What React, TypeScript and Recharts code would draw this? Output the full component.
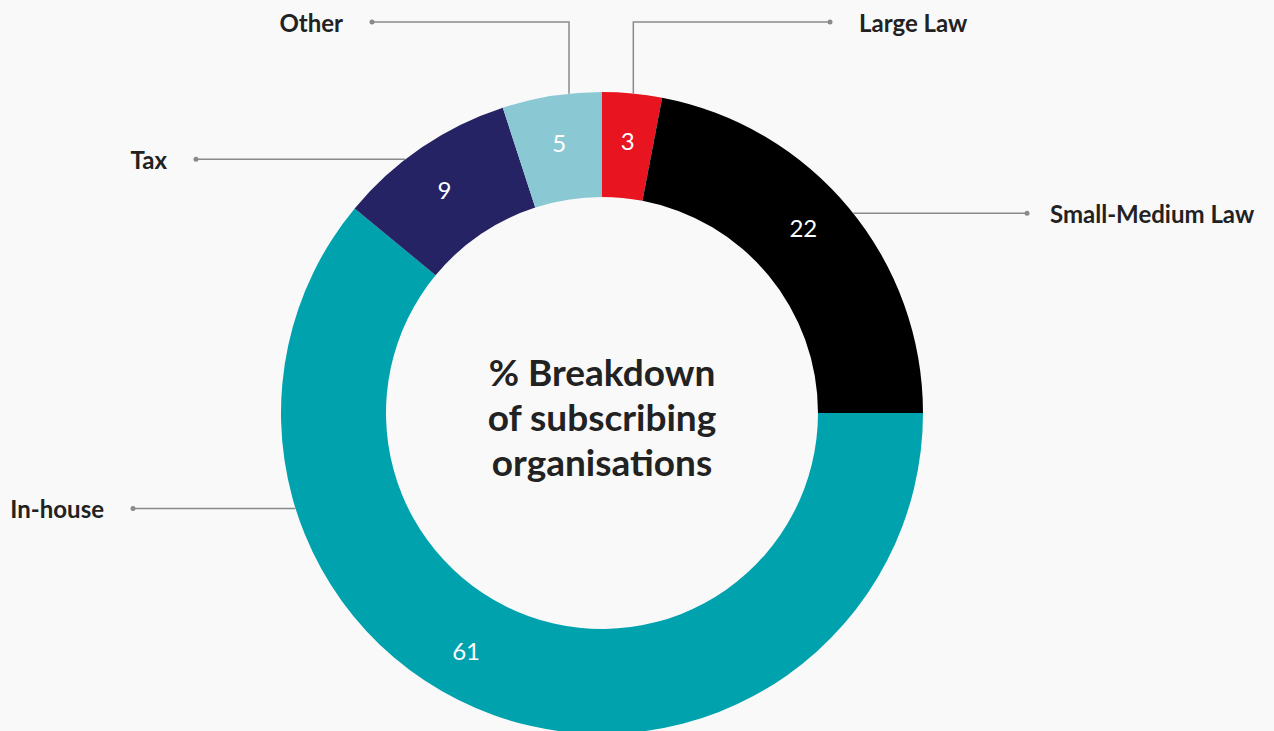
import React from 'react';
import { PieChart, Pie, Cell } from 'recharts';

const categories = ['Large Law', 'Small-Medium Law', 'In-house', 'Tax', 'Other'];
const shares = [3, 22, 61, 9, 5];
const colors = ['#e8141f', '#000000', '#00a2ae', '#262365', '#8ac8d4'];

const data = categories.map((name, i) => ({ name, value: shares[i] }));

// leader layout per slice: anchor = clock angle (deg from 12 o'clock, clockwise),
// elbowY = optional vertical run (relative to cy), endX = dot position relative to cx, gap = dot→text
const leaders = [
  { anchor: 5.6, elbowY: -391, endX: 228, gap: 29 },
  { anchor: 51.5, endX: 425, gap: 23 },
  { anchor: 252.7, endX: -469, gap: 29 },
  { anchor: -37.8, endX: -406, gap: 29 },
  { anchor: -5.9, elbowY: -391, endX: -230, gap: 29 },
];
// small angle nudges for the value labels
const valueNudge = [0, -3, 10, -1, 0];

const RAD = Math.PI / 180;
const font = 'Lato, "Open Sans", sans-serif';

const renderLabel = (props: any) => {
  const { cx, cy, midAngle, innerRadius, outerRadius, index, value, name } = props;
  const clockMid = 90 - midAngle + valueNudge[index];
  const rv = (innerRadius + outerRadius) / 2 + 5;
  const vx = cx + rv * Math.sin(clockMid * RAD);
  const vy = cy - rv * Math.cos(clockMid * RAD);

  const ld = leaders[index];
  const ax = cx + outerRadius * Math.sin(ld.anchor * RAD);
  const ay = cy - outerRadius * Math.cos(ld.anchor * RAD);
  const ly = ld.elbowY !== undefined ? cy + ld.elbowY : ay;
  const ex = cx + ld.endX;
  const pts = ld.elbowY !== undefined ? `${ax},${ay} ${ax},${ly} ${ex},${ly}` : `${ax},${ay} ${ex},${ly}`;
  const right = ex > ax;

  return (
    <g key={`lbl-${index}`}>
      <text x={vx} y={vy} fill="#ffffff" fontSize={24} fontFamily={font} textAnchor="middle" dominantBaseline="central">
        {value}
      </text>
      <polyline points={pts} fill="none" stroke="#8a8a8a" strokeWidth={1.5} />
      <circle cx={ex} cy={ly} r={2.5} fill="#8a8a8a" />
      <text
        x={right ? ex + ld.gap : ex - ld.gap}
        y={ly}
        fill="#222222"
        fontSize={24}
        fontWeight={700}
        fontFamily={font}
        textAnchor={right ? 'start' : 'end'}
        dominantBaseline="central"
      >
        {name}
      </text>
    </g>
  );
};

const App: React.FC = () => {
  return (
    <div style={{ position: 'fixed', left: 0, top: 0, width: 1274, height: 731, background: '#f9f9f9', overflow: 'hidden' }}>
      <PieChart width={1274} height={731} margin={{ top: 0, right: 0, bottom: 0, left: 0 }}>
        <Pie
          data={data}
          dataKey="value"
          nameKey="name"
          cx={602}
          cy={413}
          innerRadius={216}
          outerRadius={321}
          startAngle={90}
          endAngle={-270}
          stroke="none"
          label={renderLabel}
          labelLine={false}
          isAnimationActive={false}
        >
          {data.map((d, i) => (
            <Cell key={d.name} fill={colors[i]} />
          ))}
        </Pie>
      </PieChart>
      <div
        style={{
          position: 'absolute',
          left: 602 - 200,
          top: 349,
          width: 400,
          textAlign: 'center',
          fontFamily: font,
          fontWeight: 700,
          fontSize: 37,
          lineHeight: '45px',
          color: '#222222',
        }}
      >
        % Breakdown
        <br />
        of subscribing
        <br />
        organisations
      </div>
    </div>
  );
};

export default App;
